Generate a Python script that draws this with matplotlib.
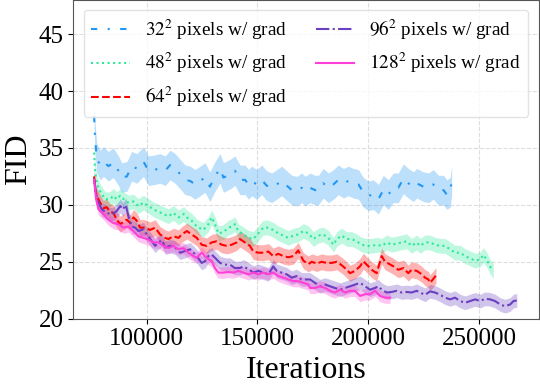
import matplotlib
matplotlib.use("Agg")
import matplotlib.pyplot as plt
import numpy as np

plt.rcParams['font.family'] = ['Liberation Serif', 'DejaVu Serif']
plt.rcParams['mathtext.fontset'] = 'stix'

# FID curves (x = iterations)
blue_x = [76200, 76700, 77400, 78900, 80400, 82700, 84900, 87200, 88700, 91000,
          93200, 95500, 98500, 100800, 103800, 106000, 108300, 110500, 112800, 115100,
          117300, 119600, 121800, 124800, 126300, 128500, 130800, 133100, 134600, 137600,
          139800, 142100, 144400, 145900, 147400, 149600, 151900, 154100, 156400, 158700,
          160900, 163200, 165500, 167700, 170000, 171500, 173700, 176000, 177500, 179700,
          182000, 184300, 186500, 188800, 191000, 193300, 195600, 197800, 200100, 202300,
          204600, 206800, 209100, 211300, 213600, 215900, 218100, 220400, 221900, 224900,
          227200, 229400, 231700, 234000, 235500, 237000, 237700]
blue_y = [37.8, 35.7, 34.1, 33.5, 33.8, 33.4, 33.7, 33.0, 32.4, 32.5,
          33.4, 33.2, 33.8, 33.0, 33.1, 33.2, 33.0, 33.5, 33.2, 32.7,
          32.2, 32.1, 31.8, 32.2, 32.4, 31.6, 32.5, 33.2, 32.4, 32.7,
          33.0, 32.2, 32.2, 31.8, 32.1, 31.8, 32.2, 31.7, 31.5, 31.8,
          32.1, 31.7, 31.3, 31.2, 31.5, 31.2, 31.5, 31.3, 31.3, 31.9,
          31.5, 31.8, 32.2, 31.9, 32.1, 31.9, 31.8, 31.1, 30.8, 30.9,
          30.5, 31.3, 30.9, 31.5, 31.5, 32.3, 31.9, 31.6, 31.9, 31.6,
          31.5, 31.8, 31.3, 31.3, 30.9, 31.1, 32.1]

green_x = [76200, 76700, 77400, 78200, 79200, 81200, 83400, 84900, 86400, 88000,
           89500, 91700, 94000, 96200, 98500, 100800, 103000, 105300, 107500, 109800,
           112000, 114300, 116600, 118100, 120300, 122600, 125500, 127800, 129300, 130800,
           132300, 134600, 136800, 138300, 139800, 141300, 143600, 145900, 148100, 150400,
           152600, 154900, 157100, 159400, 161700, 163900, 166200, 168400, 170700, 173000,
           175200, 177500, 179700, 182000, 184300, 185800, 188000, 190300, 192500, 194800,
           197100, 199300, 201600, 203800, 206100, 208400, 210600, 212900, 215100, 217400,
           219600, 221900, 223400, 225700, 227900, 230200, 232500, 234700, 237000, 239200,
           241500, 243800, 246000, 248300, 250500, 252000, 253500, 255000, 256500]
green_y = [34.6, 33.0, 31.9, 31.5, 31.1, 30.5, 30.5, 30.8, 30.5, 30.8,
           30.5, 30.2, 30.3, 29.9, 30.2, 29.9, 29.6, 29.4, 29.2, 29.0,
           29.3, 28.9, 29.2, 28.9, 28.6, 28.1, 27.8, 28.3, 28.9, 28.3,
           27.5, 27.6, 28.0, 28.1, 28.3, 27.7, 27.4, 27.1, 27.0, 27.5,
           28.0, 28.0, 27.8, 27.5, 27.3, 27.1, 27.3, 27.4, 27.7, 27.5,
           27.0, 27.3, 27.4, 27.1, 26.5, 27.0, 27.3, 27.0, 27.0, 26.8,
           26.5, 26.4, 26.4, 26.5, 26.4, 26.7, 26.5, 26.6, 26.7, 26.8,
           26.4, 26.7, 26.4, 26.7, 26.7, 26.5, 26.4, 26.4, 26.1, 25.8,
           25.8, 25.5, 25.3, 25.1, 25.2, 25.6, 25.2, 24.6, 24.2]

red_x = [76200, 76700, 77400, 78600, 80400, 81900, 83400, 84900, 86400, 88000,
         89500, 91000, 92500, 94000, 95500, 97000, 99200, 101500, 103800, 106000,
         108300, 109800, 112000, 114300, 115800, 118100, 120300, 122600, 124800, 127000,
         129300, 131500, 133800, 136100, 138300, 140600, 142100, 144300, 146600, 148100,
         150400, 152600, 154900, 157100, 159400, 161700, 163900, 166200, 168400, 170700,
         173000, 174500, 176700, 179000, 181200, 183500, 185800, 188000, 189500, 191800,
         194000, 196300, 197800, 200100, 201600, 203800, 206100, 207600, 209100, 211400,
         213600, 215900, 218100, 219600, 221900, 222700, 224200, 225700, 227200, 227900,
         229400, 230600]
red_y = [32.5, 31.3, 30.8, 30.3, 29.7, 29.8, 29.4, 29.3, 28.7, 28.3,
         28.5, 28.7, 28.4, 28.9, 28.6, 28.0, 28.0, 27.8, 28.0, 27.4,
         27.1, 27.0, 27.25, 27.1, 27.4, 27.7, 27.4, 27.1, 26.5, 26.4,
         26.7, 26.8, 26.5, 26.4, 26.5, 26.7, 27.0, 26.7, 26.4, 25.9,
         25.8, 25.8, 25.9, 25.5, 25.7, 25.5, 25.4, 25.5, 26.0, 25.1,
         24.8, 25.0, 24.85, 25.0, 24.9, 24.9, 25.0, 24.7, 24.45, 24.0,
         24.2, 24.6, 25.05, 24.6, 24.3, 24.0, 25.5, 25.0, 24.85, 24.6,
         24.3, 24.45, 24.0, 24.3, 24.2, 24.1, 23.9, 23.6, 23.45, 23.15,
         23.5, 23.8]

purple_x = [76200, 77100, 78200, 79700, 81900, 84200, 86400, 88000, 89200, 90500,
            91700, 93200, 94700, 96200, 98500, 100000, 102300, 103800, 105300, 106800,
            108300, 110500, 112800, 115100, 117300, 119600, 121800, 122500, 124800, 126300,
            127800, 129300, 130800, 133100, 135300, 137600, 139800, 142100, 143600, 145900,
            148100, 150400, 152600, 154900, 157100, 158700, 160900, 163200, 165400, 167700,
            169900, 172200, 173700, 176000, 178200, 180500, 182800, 185000, 187300, 189500,
            191800, 194100, 196300, 198600, 200800, 203100, 204600, 206100, 208400, 210600,
            212900, 215100, 217400, 219600, 221900, 223400, 225700, 227900, 230200, 232500,
            234700, 237000, 239200, 241500, 243800, 246000, 248300, 250500, 252800, 255000,
            257300, 259600, 261800, 264100, 265600, 267100]
purple_y = [32.3, 30.9, 30.2, 29.6, 29.3, 29.15, 29.45, 29.9, 29.6, 30.0,
            29.0, 28.1, 28.0, 27.7, 27.85, 27.4, 26.8, 26.4, 26.7, 26.9,
            26.25, 26.4, 26.25, 25.8, 25.95, 26.1, 25.65, 25.5, 24.9, 25.05,
            25.5, 25.65, 25.35, 24.9, 24.75, 24.75, 24.45, 24.45, 24.6, 24.35,
            24.05, 24.2, 24.05, 23.9, 24.6, 24.2, 24.05, 23.9, 23.6, 23.75,
            23.45, 23.45, 23.45, 23.15, 22.85, 23.0, 22.85, 22.7, 22.55, 22.7,
            22.85, 23.0, 23.15, 22.85, 22.55, 22.7, 22.85, 22.55, 22.3, 22.35,
            22.45, 22.3, 22.35, 22.3, 22.45, 22.3, 22.1, 22.4, 22.3, 22.1,
            21.85, 21.7, 21.85, 21.55, 21.4, 21.55, 21.7, 21.55, 21.75, 21.7,
            21.55, 21.25, 21.1, 21.25, 21.55, 21.6]

pink_x = [76200, 77100, 78200, 80400, 82700, 84900, 87200, 89500, 91700, 94000,
          96200, 98500, 100800, 103000, 105300, 107500, 109800, 112000, 114300, 116600,
          118800, 121100, 122500, 124800, 127000, 129300, 130800, 132300, 134600, 136800,
          139100, 141300, 143600, 145900, 148100, 150400, 152600, 154900, 157100, 159400,
          161700, 163900, 166200, 168400, 170700, 173000, 173700, 176000, 178200, 180500,
          182800, 185000, 187300, 189500, 191800, 194000, 196300, 198600, 200800, 203100,
          205300, 207600, 209900]
pink_y = [32.2, 30.5, 29.6, 29.2, 28.7, 28.4, 28.3, 28.0, 28.1, 27.7,
          27.25, 27.1, 26.95, 26.7, 26.7, 26.4, 26.2, 26.4, 26.1, 26.2,
          25.8, 25.5, 25.35, 25.8, 25.35, 25.05, 24.45, 24.05, 24.05, 24.1,
          24.05, 24.2, 24.05, 23.9, 24.05, 23.9, 24.05, 23.9, 24.05, 23.75,
          23.6, 23.45, 23.3, 23.3, 23.15, 23.0, 22.7, 22.7, 22.85, 22.7,
          22.45, 22.3, 22.55, 22.3, 22.45, 22.45, 22.0, 22.15, 22.15, 22.45,
          22.0, 21.85, 21.85]

# half-width of the shaded band around each curve
blue_spread = 1.3
green_spread = 0.65
red_spread = 0.7
purple_spread = 0.6
pink_spread = 0.5

labels = [r'$32^2$ pixels w/ grad', r'$48^2$ pixels w/ grad', r'$64^2$ pixels w/ grad',
          r'$96^2$ pixels w/ grad', r'$128^2$ pixels w/ grad']

series = [
    (blue_x, blue_y, blue_spread, '#2196f3', (0, (3, 5, 1, 5))),
    (green_x, green_y, green_spread, '#2ee89a', ':'),
    (red_x, red_y, red_spread, '#ff0000', '--'),
    (purple_x, purple_y, purple_spread, '#6a3fc1', '-.'),
    (pink_x, pink_y, pink_spread, '#ff3fd5', '-'),
]

fig = plt.figure(figsize=(5.4, 3.9), dpi=100)
ax = fig.add_axes([0.1357, 0.1828, 0.8619, 0.8172])

for (x, y, s, c, ls), lab in zip(series, labels):
    x = np.array(x)
    y = np.array(y)
    ax.fill_between(x, y - s, y + s, color=c, alpha=0.3, linewidth=0)
    ax.plot(x, y, color=c, linestyle=ls, linewidth=1.5, label=lab)

ax.set_xlim(66800, 277000)
ax.set_ylim(20, 48)
ax.set_xticks([100000, 150000, 200000, 250000])
ax.set_yticks([20, 25, 30, 35, 40, 45])
ax.grid(True, linestyle='--', color='#dddddd', linewidth=0.8)
ax.set_axisbelow(True)
ax.tick_params(labelsize=18)
for sp in ax.spines.values():
    sp.set_color('#555555')

ax.set_xlabel('Iterations', fontsize=23)
ax.set_ylabel('FID', fontsize=23)

ax.legend(loc='upper center', ncol=2, fontsize=13.8, framealpha=0.8,
          edgecolor='#dddddd', columnspacing=1.5)

fig.savefig('out.png', dpi=100)
